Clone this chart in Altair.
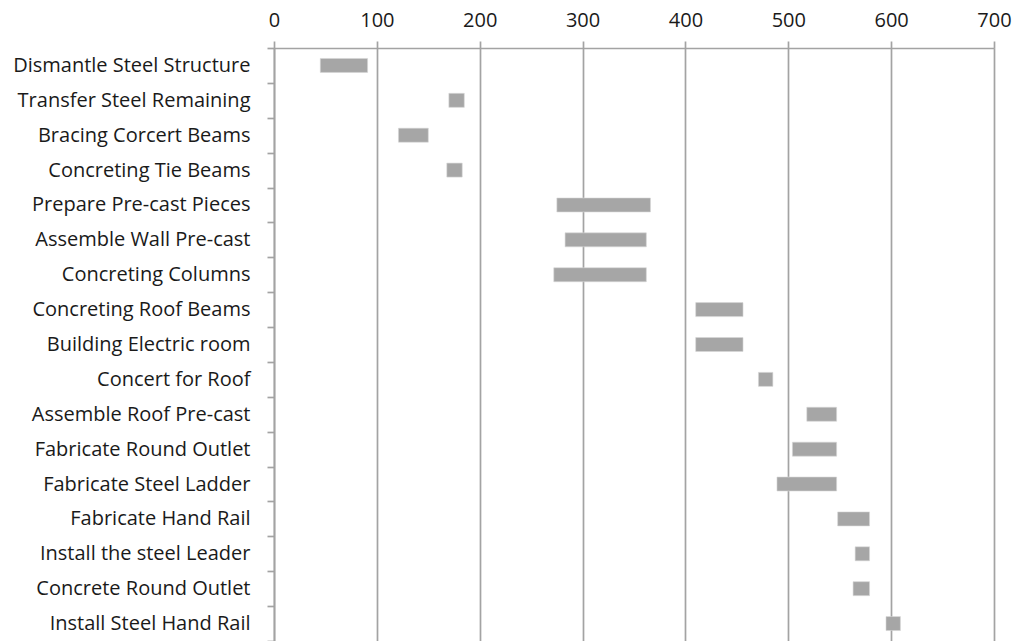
import altair as alt
import pandas as pd

tasks = [
    "Dismantle Steel Structure", "Transfer Steel Remaining", "Bracing Corcert Beams",
    "Concreting Tie Beams", "Prepare Pre-cast Pieces", "Assemble Wall Pre-cast",
    "Concreting Columns", "Concreting Roof Beams", "Building Electric room",
    "Concert for Roof", "Assemble Roof Pre-cast", "Fabricate Round Outlet",
    "Fabricate Steel Ladder", "Fabricate Hand Rail", "Install the steel Leader",
    "Concrete Round Outlet", "Install Steel Hand Rail",
]
start = [45, 170, 121, 168, 275, 283, 272, 410, 410, 471, 518, 504, 489, 548, 565, 563, 595]
end = [91, 185, 150, 183, 366, 362, 362, 456, 456, 485, 547, 547, 547, 579, 579, 579, 609]
x_ticks = [0, 100, 200, 300, 400, 500, 600, 700]

df = pd.DataFrame({"task": tasks, "start": start, "end": end})

FONT = "Open Sans"
LINE = "#a3a3a3"

bars = alt.Chart(df).mark_bar(color="#a6a6a6", stroke="#d6d6d6", strokeWidth=0.6, height=14).encode(
    x=alt.X(
        "start:Q",
        scale=alt.Scale(domain=[0, 700], nice=False, zero=False),
        axis=alt.Axis(
            orient="top", values=x_ticks, title=None, grid=True,
            gridColor=LINE, gridWidth=1.7, gridOpacity=1,
            domainColor=LINE, domainWidth=1.7,
            tickColor=LINE, tickWidth=1.7, tickSize=7,
            labelFont=FONT, labelFontSize=20, labelColor="#1a1a1a",
            labelPadding=11, labelFlush=False,
        ),
    ),
    x2="end:Q",
    y=alt.Y(
        "task:N", sort=tasks,
        scale=alt.Scale(paddingInner=0, paddingOuter=0),
        axis=alt.Axis(
            title=None, orient="left", tickBand="extent",
            domainColor=LINE, domainWidth=1.7,
            tickColor=LINE, tickWidth=1.7, tickSize=7,
            labelFont=FONT, labelFontSize=20, labelColor="#1a1a1a",
            labelPadding=17, grid=False, labelLimit=400,
        ),
    ),
)

chart = bars.properties(
    width=720, height=593,
    autosize=alt.AutoSizeParams(type="none"),
    padding={"left": 274, "top": 48, "right": 30, "bottom": 0},
).configure_view(stroke=None).configure(background="white")

chart.save("out.html", embed_options={"renderer": "svg", "actions": False})
